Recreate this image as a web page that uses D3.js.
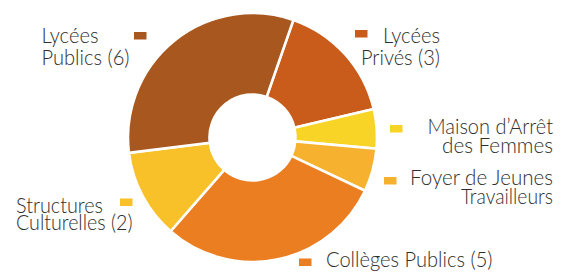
<!DOCTYPE html>
<html>
<head>
<meta charset="utf-8">
<script src="https://cdn.jsdelivr.net/npm/d3@7"></script>
<style>
  html, body { margin: 0; padding: 0; background: #fff; }
  svg { display: block; }
  text { font-family: "Lato", "DejaVu Sans Condensed", sans-serif; font-weight: 300; fill: #2e2e2e; }
</style>
</head>
<body>
<svg id="chart" width="564" height="273"></svg>
<script>
// Data (clockwise from the top-right slice)
const categories = ["Lycées Privés", "Maison d'Arrêt des Femmes", "Foyer de Jeunes Travailleurs", "Collèges Publics", "Structures Culturelles", "Lycées Publics"];
const counts = [3, null, null, 5, 2, 6];
// share of the ring (percent)
const shares = [16.0, 5.1, 5.6, 29.4, 11.6, 32.3];
const labelLines = [
  ["Lycées", "Privés (3)"],
  ["Maison d’Arrêt", "des Femmes"],
  ["Foyer de Jeunes", "Travailleurs"],
  ["Collèges Publics (5)"],
  ["Structures", "Culturelles (2)"],
  ["Lycées", "Publics (6)"]
];
const colors = ["#C95C1A", "#F8D426", "#F6B12E", "#EA7E20", "#F8C12A", "#A8571F"];

const svg = d3.select("#chart");
const cx = 252.5, cy = 137.5;
const startDeg = 19.2;
const pie = d3.pie().sort(null).value(d => d.share)
  .startAngle(startDeg * Math.PI / 180)
  .endAngle((startDeg + 360) * Math.PI / 180);
const arc = d3.arc().innerRadius(43).outerRadius(124.5);
const data = categories.map((c, i) => ({ name: c, count: counts[i], share: shares[i], color: colors[i], lines: labelLines[i] }));

const g = svg.append("g").attr("transform", `translate(${cx},${cy})`);
g.selectAll("path").data(pie(data)).join("path")
  .attr("d", arc)
  .attr("fill", d => d.data.color)
  .attr("stroke", "#fff")
  .attr("stroke-width", 2.6)
  .attr("stroke-linejoin", "miter");

// label layout (marker box + text lines)
const layout = [
  { marker: [355, 30], anchor: "end", x: 440, baselines: [42.5, 65], widths: [57, 79] },
  { marker: [390, 125], anchor: "end", x: 553, baselines: [134, 153], widths: [125.5, 111] },
  { marker: [384, 177], anchor: "end", x: 553, baselines: [185, 203.5], widths: [143, 92] },
  { marker: [299, 258.5], anchor: "start", x: 326, baselines: [266.5], widths: [166.5] },
  { marker: [120, 198.5], anchor: "start", x: 16, baselines: [212.5, 230], widths: [87, 116.5] },
  { marker: [134, 32], anchor: "start", x: 41.5, baselines: [43, 65], widths: [57, 88] }
];

data.forEach((d, i) => {
  const L = layout[i];
  svg.append("rect")
    .attr("x", L.marker[0]).attr("y", L.marker[1])
    .attr("width", 12.5).attr("height", 7.5)
    .attr("fill", d.color);
  d.lines.forEach((line, j) => {
    svg.append("text")
      .attr("x", L.x).attr("y", L.baselines[j])
      .attr("text-anchor", L.anchor)
      .attr("font-size", 21)
      .attr("textLength", L.widths[j])
      .attr("lengthAdjust", "spacingAndGlyphs")
      .text(line);
  });
});
</script>
</body>
</html>
